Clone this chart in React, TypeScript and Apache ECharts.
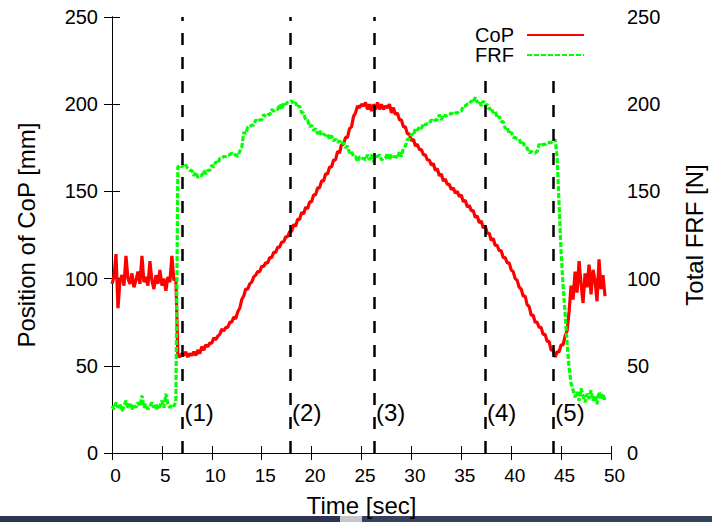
import React, { useEffect, useRef } from "react";
import * as echarts from "echarts";

// Sampling interval of the recorded signals [sec]
const sampleStep = 0.2;

// Position of CoP [mm], one value per sample (t = 0, 0.2, 0.4, ...)
const copValues = [
  97, 101, 114, 83, 99, 102, 96, 113, 100, 97,
  103, 95, 99, 104, 97, 113, 98, 101, 96, 110,
  99, 94, 102, 97, 105, 96, 100, 93, 101, 98,
  113, 99, 100, 56, 55, 57, 56, 58, 55, 57,
  56, 58, 56, 59, 57, 61, 59, 62, 61, 63,
  63, 66, 65, 67, 68, 71, 70, 72, 72, 75,
  75, 78, 77, 81, 83, 88, 90, 94, 94, 97,
  98, 101, 102, 104, 104, 107, 107, 109, 109, 112,
  112, 115, 115, 118, 118, 121, 121, 124, 124, 127,
  127, 131, 130, 134, 134, 138, 137, 141, 140, 144,
  144, 148, 148, 152, 152, 156, 156, 160, 160, 164,
  164, 168, 168, 173, 172, 177, 177, 181, 181, 186,
  187, 193, 195, 199, 198, 200, 199, 201, 197, 200,
  196, 200, 197, 201, 197, 200, 197, 199, 198, 200,
  195, 198, 194, 195, 191, 191, 187, 187, 183, 183,
  179, 180, 176, 177, 174, 174, 171, 171, 168, 168,
  165, 166, 162, 163, 159, 160, 156, 157, 154, 154,
  151, 152, 149, 150, 147, 148, 144, 145, 141, 142,
  139, 139, 135, 136, 132, 133, 129, 130, 126, 126,
  122, 123, 119, 119, 116, 116, 112, 112, 109, 109,
  105, 104, 100, 99, 95, 94, 90, 90, 85, 84,
  79, 79, 75, 75, 72, 72, 68, 68, 64, 64,
  59, 59, 55, 58, 58, 62, 62, 67, 70, 81,
  96, 88, 104, 92, 110, 97, 86, 103, 95, 108,
  91, 105, 99, 87, 111, 94, 102, 90,
];

// Total FRF [N], one value per sample
const frfValues = [
  27, 25, 29, 26, 28, 24, 27, 30, 26, 28,
  25, 28, 26, 29, 27, 33, 26, 28, 25, 27,
  29, 26, 28, 25, 27, 30, 26, 34, 28, 26,
  28, 27, 29, 164, 165, 164, 166, 165, 163, 162,
  162, 159, 161, 158, 159, 159, 162, 160, 162, 162,
  165, 164, 167, 166, 169, 169, 170, 170, 171, 171,
  172, 171, 171, 170, 173, 175, 184, 183, 187, 187,
  188, 188, 191, 190, 191, 191, 194, 193, 194, 194,
  197, 196, 197, 197, 200, 197, 201, 200, 201, 201,
  202, 200, 201, 198, 199, 195, 195, 191, 191, 187,
  188, 185, 186, 183, 185, 182, 183, 182, 183, 180,
  182, 179, 180, 178, 179, 177, 178, 175, 176, 172,
  173, 170, 170, 167, 170, 169, 169, 168, 171, 168,
  171, 167, 170, 170, 171, 168, 169, 169, 172, 168,
  171, 170, 170, 169, 173, 170, 175, 176, 180, 180,
  183, 182, 186, 185, 187, 186, 189, 188, 189, 189,
  191, 190, 191, 191, 194, 191, 194, 193, 194, 194,
  195, 194, 195, 195, 196, 196, 199, 199, 200, 200,
  202, 201, 204, 201, 202, 199, 202, 199, 200, 197,
  198, 195, 196, 192, 193, 190, 190, 186, 187, 183,
  184, 181, 181, 180, 180, 177, 178, 175, 175, 172,
  173, 172, 172, 173, 177, 176, 177, 177, 178, 178,
  178, 179, 180, 170, 142, 115, 96, 80, 63, 49,
  40, 36, 32, 35, 30, 37, 33, 29, 34, 31,
  36, 30, 33, 28, 35, 31, 34, 30,
];

// Phase markers (vertical dashed lines)
const eventTimes = [7.06, 17.84, 26.25, 37.37, 44.22];
const eventTops = [250, 250, 250, 220, 220];
const eventLabels = ["(1)", "(2)", "(3)", "(4)", "(5)"];
const eventLabelLevel = 23.5;

const seriesNames = ["CoP", "FRF"];
const xTitle = "Time [sec]";
const yLeftTitle = "Position of CoP [mm]";
const yRightTitle = "Total FRF [N]";

const FONT = "'Liberation Sans', Arial, Helvetica, sans-serif";

export default function App() {
  const ref = useRef<HTMLDivElement>(null);

  useEffect(() => {
    document.body.style.margin = "0";
    if (!ref.current) return;
    const chart = echarts.init(ref.current, undefined, { renderer: "svg" });

    const copData = copValues.map((v, i) => [+(i * sampleStep).toFixed(2), v]);
    const frfData = frfValues.map((v, i) => [+(i * sampleStep).toFixed(2), v]);

    const axisCommon = {
      type: "value" as const,
      axisLine: { show: true, lineStyle: { color: "#000", width: 1 } },
      axisTick: { show: true, inside: true, length: 7, lineStyle: { color: "#000", width: 1 } },
      splitLine: { show: false },
    };

    chart.setOption({
      animation: false,
      backgroundColor: "#fff",
      textStyle: { fontFamily: FONT },
      grid: {
        left: 112,
        right: 101,
        top: 17,
        bottom: 69,
        containLabel: false,
        outerBoundsMode: "none",
      },
      legend: {
        data: seriesNames,
        orient: "vertical",
        right: 127,
        top: 25,
        padding: 0,
        itemGap: 0,
        align: "right",
        itemWidth: 57,
        itemHeight: 14,
        lineStyle: { width: 2 },
        itemStyle: { opacity: 0, borderWidth: 0 },
        textStyle: {
          fontSize: 20,
          color: "#000",
          lineHeight: 20,
          padding: [0, 8, 0, 0],
        },
      },
      xAxis: [
        {
          ...axisCommon,
          position: "bottom",
          min: 0,
          max: 50,
          interval: 5,
          axisLabel: { fontSize: 19, color: "#000", margin: 13, padding: [0, 0, 0, 7] },
          name: xTitle,
          nameLocation: "middle",
          nameGap: 40,
          nameTextStyle: { fontSize: 24, color: "#000" },
        },
        {
          ...axisCommon,
          position: "top",
          min: 0,
          max: 50,
          interval: 5,
          axisLabel: { show: false },
        },
      ],
      yAxis: [
        {
          ...axisCommon,
          position: "left",
          min: 0,
          max: 250,
          interval: 50,
          axisTick: { show: true, inside: true, length: 8, lineStyle: { color: "#000" } },
          axisLabel: { fontSize: 20, color: "#000", margin: 14 },
          name: yLeftTitle,
          nameLocation: "middle",
          nameRotate: 90,
          nameGap: 74,
          nameTextStyle: { fontSize: 24, color: "#000" },
        },
        {
          ...axisCommon,
          position: "right",
          min: 0,
          max: 250,
          interval: 50,
          axisTick: { show: true, inside: true, length: 8, lineStyle: { color: "#000" } },
          axisLabel: { fontSize: 20, color: "#000", margin: 16 },
          name: yRightTitle,
          nameLocation: "middle",
          nameRotate: 90,
          nameGap: 71,
          nameTextStyle: { fontSize: 24, color: "#000" },
        },
      ],
      series: [
        {
          name: seriesNames[0],
          type: "line",
          xAxisIndex: 0,
          yAxisIndex: 0,
          data: copData,
          showSymbol: false,
          symbol: "none",
          color: "#ff0000",
          lineStyle: { color: "#ff0000", width: 3.2 },
          z: 2,
          markLine: {
            silent: true,
            symbol: ["none", "none"],
            label: { show: false },
            lineStyle: { color: "#000", type: [12, 12], width: 2.5 },
            data: eventTimes.map((t, i) => [
              { coord: [t, 0] },
              { coord: [t, eventTops[i]] },
            ]),
            z: 5,
          },
        },
        {
          name: seriesNames[1],
          type: "line",
          xAxisIndex: 0,
          yAxisIndex: 1,
          data: frfData,
          showSymbol: false,
          symbol: "none",
          color: "#00ff00",
          lineStyle: { color: "#00ff00", width: 3.2, type: [5, 2] },
          z: 3,
        },
        {
          name: "events",
          type: "scatter",
          xAxisIndex: 0,
          yAxisIndex: 0,
          symbolSize: 0,
          silent: true,
          data: eventTimes.map((t) => [t, eventLabelLevel]),
          itemStyle: { opacity: 1 },
          label: {
            show: true,
            position: "right",
            distance: 2,
            fontSize: 24,
            color: "#000",
            opacity: 1,
            textBorderWidth: 0,
            formatter: (p: any) => eventLabels[p.dataIndex],
          },
          z: 6,
        },
      ],
      graphic: [
        { type: "rect", left: 0, top: 516, shape: { width: 340, height: 6 }, style: { fill: "#2a3550" }, silent: true },
        { type: "rect", left: 340, top: 516, shape: { width: 22, height: 6 }, style: { fill: "#c4c6cc" }, silent: true },
        { type: "rect", left: 362, top: 516, shape: { width: 350, height: 6 }, style: { fill: "#36425c" }, silent: true },
      ],
    });

    return () => {
      chart.dispose();
    };
  }, []);

  return <div ref={ref} style={{ width: 712, height: 522 }} />;
}
